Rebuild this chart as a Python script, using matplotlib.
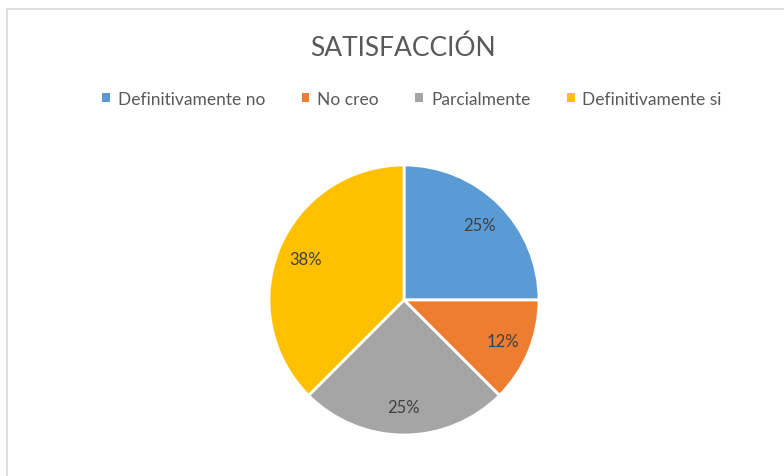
import numpy as np
import matplotlib.pyplot as plt
from matplotlib.patches import Patch, Rectangle

plt.rcParams['font.family'] = ['Lato', 'DejaVu Sans']

# data
categories = ['Definitivamente no', 'No creo', 'Parcialmente', 'Definitivamente si']
counts = [2, 1, 2, 3]
pct_labels = ['25%', '12%', '25%', '38%']
colors = ['#5b9bd5', '#ed7d31', '#a5a5a5', '#ffc000']

W, H = 784, 477
fig = plt.figure(figsize=(W / 100, H / 100), dpi=100)

# chart border (only top and left visible in the crop)
fig.add_artist(Rectangle((7 / W, -0.1), 1.2, 1 - 10 / H + 0.1, transform=fig.transFigure,
                         fill=False, edgecolor='#d9d9d9', linewidth=1.2))

fig.text(403 / W, 1 - 48 / H, 'SATISFACCIÓN', ha='center', va='center',
         fontsize=19, color='#595959')

cx, cy, r = 404, H - 301, 135
ax = fig.add_axes([(cx - r) / W, (cy - r) / H, 2 * r / W, 2 * r / H])
wedges, _ = ax.pie(counts, colors=colors, startangle=90, counterclock=False,
                   wedgeprops=dict(edgecolor='white', linewidth=2))
for w, lab in zip(wedges, pct_labels):
    ang = np.deg2rad((w.theta1 + w.theta2) / 2)
    ax.text(0.79 * np.cos(ang), 0.79 * np.sin(ang), lab, ha='center', va='center',
            fontsize=12, color='#404040')
ax.set_xlim(-1, 1)
ax.set_ylim(-1, 1)
ax.set_aspect('equal')
ax.axis('off')

handles = [Patch(facecolor=c, edgecolor='none') for c in colors]
fig.legend(handles, categories, loc='center', bbox_to_anchor=(412 / W, 1 - 100 / H),
           ncol=4, frameon=False, fontsize=12.5, handlelength=0.45, handleheight=0.45,
           handletextpad=0.45, columnspacing=2.1, labelcolor='#595959')

fig.savefig('out.png', dpi=100)
